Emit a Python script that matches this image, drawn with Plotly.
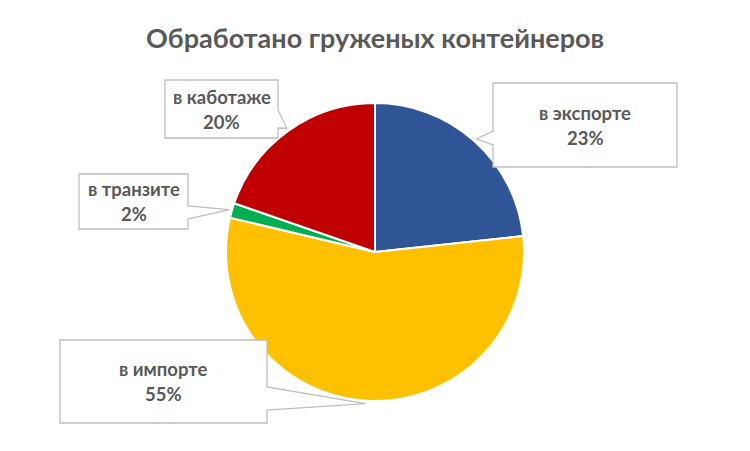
import math
import plotly.graph_objects as go

categories = ["в экспорте", "в импорте", "в транзите", "в каботаже"]
values = [23.3, 55.4, 1.6, 19.7]
colors = ["#2F5597", "#FFC000", "#00B050", "#C00000"]

W, H = 750, 451
CX, CY, R = 375, 252, 149

def px(x):
    return x / W

def py(y):
    return 1 - y / H

# callout boxes: (x0, y0, x1, y1, side, base_y0, base_y1)
boxes = [
    (493, 83, 677, 167, "left", 131, 145),
    (60, 340, 267, 423, "right", 387, 410),
    (79, 174, 188, 229, "right", 206, 219),
    (165, 80, 278, 138, "right", 110, 128),
]

total = sum(values)
fig = go.Figure(go.Pie(
    labels=categories, values=values, sort=False, direction="clockwise",
    rotation=0, marker=dict(colors=colors, line=dict(color="white", width=2)),
    textinfo="none", hoverinfo="label+percent", showlegend=False,
    domain=dict(x=[px(CX - R), px(CX + R)], y=[py(CY + R), py(CY - R)]),
))

shapes = []
annotations = []
cum = 0
for cat, v, b in zip(categories, values, boxes):
    mid = (cum + v / 2) / total * 2 * math.pi
    cum += v
    tx = CX + R * 1.02 * math.sin(mid)
    ty = CY - R * 1.02 * math.cos(mid)
    x0, y0, x1, y1, side, by0, by1 = b
    if side == "left":
        pts = [(x0, y0), (x1, y0), (x1, y1), (x0, y1), (x0, by1), (tx, ty), (x0, by0)]
    else:
        pts = [(x0, y0), (x1, y0), (x1, by0), (tx, ty), (x1, by1), (x1, y1), (x0, y1)]
    path = "M " + " L ".join(f"{px(a):.5f},{py(c):.5f}" for a, c in pts) + " Z"
    shapes.append(dict(type="path", path=path, xref="paper", yref="paper",
                       line=dict(color="#BFBFBF", width=1.3), fillcolor="white"))
    mx = px((x0 + x1) / 2)
    my = (y0 + y1) / 2
    pct = f"{round(v / total * 100)}%"
    for txt, dy in ((cat, -12.5), (pct, 12.5)):
        annotations.append(dict(text=f"<b>{txt}</b>", x=mx, y=py(my + dy), xref="paper", yref="paper",
                                showarrow=False, xanchor="center", yanchor="middle",
                                font=dict(family="Lato", size=18.5, color="#595959")))

annotations.append(dict(text="<b>Обработано груженых контейнеров</b>", x=0.5, y=py(37),
                        xref="paper", yref="paper", showarrow=False, xanchor="center", yanchor="middle",
                        font=dict(family="Lato", size=27, color="#595959")))

fig.update_layout(width=W, height=H, margin=dict(l=0, r=0, t=0, b=0),
                  paper_bgcolor="white", plot_bgcolor="white",
                  shapes=shapes, annotations=annotations)
fig.write_html("out.html")
